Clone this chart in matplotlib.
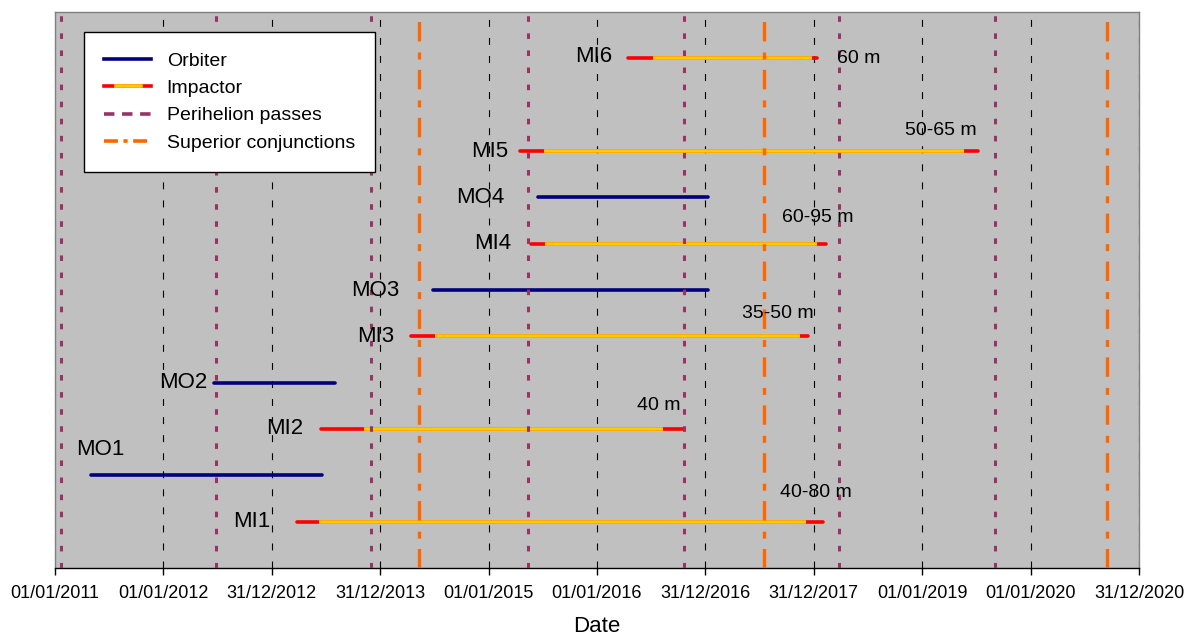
import pandas as pd
import matplotlib
matplotlib.use('Agg')
import matplotlib.pyplot as plt
import matplotlib.dates as mdates
from matplotlib.lines import Line2D
from matplotlib.legend_handler import HandlerBase

# mission timelines (rows counted from the bottom of the chart)
orbiter_names = ['MO1', 'MO2', 'MO3', 'MO4']
orbiter_rows = [2, 4, 6, 8]
orbiter_start = ['2011-05-01', '2012-06-20', '2014-06-26', '2015-06-15']
orbiter_end = ['2013-06-20', '2013-08-01', '2017-01-10', '2017-01-10']

impactor_names = ['MI1', 'MI2', 'MI3', 'MI4', 'MI5', 'MI6']
impactor_rows = [1, 3, 5, 7, 9, 11]
impactor_launch = ['2013-03-25', '2013-06-14', '2014-04-16', '2015-05-23', '2015-04-17', '2016-04-15']
impactor_cruise_start = ['2013-06-10', '2013-11-08', '2014-07-04', '2015-07-10', '2015-07-08', '2016-07-07']
impactor_cruise_end = ['2017-12-06', '2016-08-09', '2017-11-15', '2018-01-10', '2019-05-23', '2017-12-25']
impactor_arrival = ['2018-02-02', '2016-10-16', '2017-12-11', '2018-02-10', '2019-07-08', '2018-01-10']
target_sizes = ['40-80 m', '40 m', '35-50 m', '60-95 m', '50-65 m', '60 m']

perihelion_dates = ['2011-01-22', '2012-06-28', '2013-12-02', '2015-05-13',
                    '2016-10-19', '2018-03-25', '2019-09-02']
conjunction_dates = ['2014-05-12', '2017-07-17', '2020-09-14']

tick_labels = ['01/01/2011', '01/01/2012', '31/12/2012', '31/12/2013', '01/01/2015',
               '01/01/2016', '31/12/2016', '31/12/2017', '01/01/2019', '01/01/2020',
               '31/12/2020']

# label placement (pixels)
name_offsets = {'MO1': (34, 26), 'MO2': (-7, 0), 'MO3': (-33, 0), 'MO4': (-33, 0),
                'MI1': (-26, 0), 'MI2': (-17, 0), 'MI3': (-17, 0), 'MI4': (-19, 0),
                'MI5': (-12, 0), 'MI6': (-16, 2)}
size_offsets = [(-7, 29), (-24, 24), (-30, 23), (-8, 26), (-37, 21), (42, 0)]

NAVY = '#000080'
RED = '#FF0000'
YELLOW = '#FFCC00'
PURPLE = '#993366'
ORANGE = '#FF6600'
GREY_BG = '#C0C0C0'


def to_num(dates):
    return mdates.date2num(pd.to_datetime(dates).to_pydatetime())


class ImpactorHandler(HandlerBase):
    def create_artists(self, legend, orig_handle, xdescent, ydescent, width, height, fontsize, trans):
        y = height / 2 - ydescent
        x0 = -xdescent
        red = Line2D([x0, x0 + width], [y, y], color=RED, lw=2.6, transform=trans)
        yel = Line2D([x0 + width * 0.25, x0 + width * 0.78], [y, y], color=YELLOW, lw=2.6, transform=trans)
        return [red, yel]


plt.rcParams['font.family'] = ['Liberation Sans', 'DejaVu Sans']
plt.rcParams['lines.scale_dashes'] = False

fig = plt.figure(figsize=(11.93, 6.39), dpi=100)
ax = fig.add_axes([55 / 1193, 71 / 639, 1084 / 1193, 556 / 639])
ax.set_facecolor(GREY_BG)

t0 = to_num(['2011-01-01'])[0]
ticks = [t0 + k * 365.25 for k in range(len(tick_labels))]
ax.set_xlim(ticks[0], ticks[-1])
ax.set_ylim(0, 12)

# yearly gridlines
for t in ticks[1:]:
    ax.axvline(t, color='black', lw=0.8, dashes=(5, 8), zorder=1)

# orbiters
for name, row, s, e in zip(orbiter_names, orbiter_rows, to_num(orbiter_start), to_num(orbiter_end)):
    ax.plot([s, e], [row, row], color=NAVY, lw=2.6, solid_capstyle='round', zorder=2)
    dx, dy = name_offsets[name]
    ax.annotate(name, (s, row), xytext=(dx, dy), textcoords='offset pixels',
                ha='right', va='center', fontsize=16, zorder=5)

# impactors
for i, name in enumerate(impactor_names):
    row = impactor_rows[i]
    l = to_num([impactor_launch[i]])[0]
    c0 = to_num([impactor_cruise_start[i]])[0]
    c1 = to_num([impactor_cruise_end[i]])[0]
    a = to_num([impactor_arrival[i]])[0]
    ax.plot([l, a], [row, row], color=RED, lw=2.6, solid_capstyle='round', zorder=2)
    ax.plot([c0, c1], [row, row], color=YELLOW, lw=2.6, solid_capstyle='butt', zorder=2)
    dx, dy = name_offsets[name]
    ax.annotate(name, (l, row), xytext=(dx, dy), textcoords='offset pixels',
                ha='right', va='center', fontsize=16, zorder=5)
    sx, sy = size_offsets[i]
    ax.annotate(target_sizes[i], (a, row), xytext=(sx, sy), textcoords='offset pixels',
                ha='center', va='center', fontsize=14, zorder=5)

# perihelion passes and superior conjunctions
for d in to_num(perihelion_dates):
    ax.axvline(d, color=PURPLE, lw=2.2, dashes=(4, 8.3), zorder=3)
for d in to_num(conjunction_dates):
    ax.axvline(d, color=ORANGE, lw=2.4, dashes=(14, 7.5, 5, 8), zorder=3)

ax.set_xticks(ticks)
ax.set_xticklabels(tick_labels, fontsize=13)
ax.set_yticks([])
ax.tick_params(axis='x', direction='out', length=5, width=1, pad=7, color='black')
ax.set_xlabel('Date', fontsize=16, labelpad=10)

for side in ['left', 'top', 'right']:
    ax.spines[side].set_color('#808080')
    ax.spines[side].set_linewidth(1)
ax.spines['bottom'].set_color('black')
ax.spines['bottom'].set_linewidth(1)

handles = [
    Line2D([], [], color=NAVY, lw=2.6),
    Line2D([], [], color=RED),
    Line2D([], [], color=PURPLE, lw=2.6, dashes=(7.5, 5.5)),
    Line2D([], [], color=ORANGE, lw=2.6, dashes=(10, 4, 3, 4)),
]
labels = ['Orbiter', 'Impactor', 'Perihelion passes', 'Superior conjunctions']
leg = ax.legend(handles, labels, loc='upper left', bbox_to_anchor=(0.0268, 0.9646),
                borderaxespad=0, fontsize=14, handlelength=2.4, handletextpad=0.8,
                labelspacing=0.5, borderpad=1.05, fancybox=False, framealpha=1,
                edgecolor='black', handler_map={handles[1]: ImpactorHandler()})
leg.get_frame().set_linewidth(1)
leg.set_zorder(10)

fig.savefig('out.png', dpi=100, facecolor='white')
